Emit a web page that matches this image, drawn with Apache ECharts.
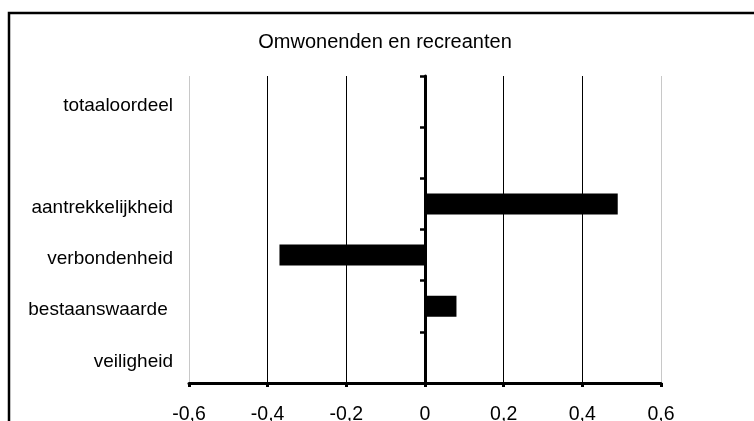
<!DOCTYPE html>
<html>
<head>
<meta charset="utf-8">
<script src="https://cdn.jsdelivr.net/npm/echarts@6/dist/echarts.min.js"></script>
<style>html,body{margin:0;padding:0;background:#fff}#c{width:754px;height:421px}</style>
</head>
<body>
<div id="c"></div>
<script>
var titleText = 'Omwonenden en recreanten';
var categories = ['totaaloordeel', '', 'aantrekkelijkheid', 'verbondenheid', 'bestaanswaarde ', 'veiligheid'];
var values = [0, null, 0.49, -0.37, 0.08, 0];
var xMin = -0.6, xMax = 0.6, xInterval = 0.2;
var xTickLabels = ['-0,6', '-0,4', '-0,2', '0', '0,2', '0,4', '0,6'];

var FONT = "'Liberation Sans', Arial, sans-serif";
var chart = echarts.init(document.getElementById('c'), null, {renderer: 'canvas'});
chart.setOption({
  animation: false,
  backgroundColor: '#fff',
  title: {
    text: titleText, left: 385, top: 32, textAlign: 'center', padding: 0,
    textStyle: {fontFamily: FONT, fontSize: 20, fontWeight: 'normal', color: '#000'}
  },
  grid: {left: 189, right: 93, top: 76, bottom: 38, containLabel: false, outerBoundsMode: 'none'},
  xAxis: {
    type: 'value', min: xMin, max: xMax, interval: xInterval,
    axisLine: {show: true, onZero: false, lineStyle: {color: '#000', width: 3}},
    axisTick: {show: true, length: 4, lineStyle: {color: '#000', width: 3}},
    axisLabel: {
      margin: 22, fontFamily: FONT, fontSize: 19.5, color: '#000',
      formatter: function (v) { return xTickLabels[Math.round((v - xMin) / xInterval)]; }
    },
    splitLine: {show: true, lineStyle: {width: 1, color: ['#c8c8c8', '#000', '#000', '#000', '#000', '#000', '#c8c8c8']}}
  },
  yAxis: [{
    type: 'category', data: categories, inverse: true,
    axisLine: {show: false, onZero: false},
    axisTick: {show: false},
    axisLabel: {margin: 16, fontFamily: FONT, fontSize: 19, color: '#000', verticalAlign: 'top', lineHeight: 8},
    splitLine: {show: false}
  }, {
    type: 'category', data: categories, inverse: true, position: 'left',
    axisLine: {show: true, onZero: true, lineStyle: {color: '#000', width: 3}},
    axisTick: {show: true, length: 5, lineStyle: {color: '#000', width: 2.5}},
    axisLabel: {show: false},
    splitLine: {show: false}
  }],
  series: [{
    type: 'bar', data: values, yAxisIndex: 0, barWidth: 21,
    itemStyle: {color: '#000'}, z: 1
  }],
  graphic: [{
    type: 'rect', silent: true, z: 100,
    shape: {x: 9, y: 13, width: 900, height: 600},
    style: {fill: 'none', stroke: '#000', lineWidth: 2.5}
  }]
});
</script>
</body>
</html>
